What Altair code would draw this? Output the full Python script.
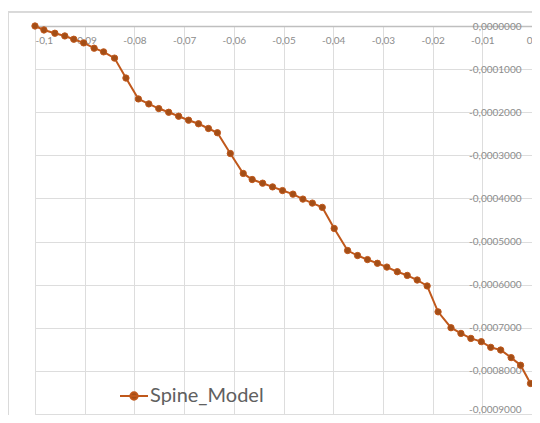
import altair as alt
import pandas as pd

x_vals = [-0.1, -0.0982, -0.096, -0.094, -0.0922, -0.0902, -0.0881, -0.0862, -0.084, -0.0817,
          -0.0792, -0.0771, -0.0751, -0.0731, -0.0711, -0.0691, -0.0671, -0.0651, -0.0633, -0.0607,
          -0.0581, -0.0563, -0.0542, -0.0522, -0.0502, -0.0481, -0.0461, -0.0442, -0.0422, -0.0398,
          -0.0371, -0.0351, -0.0331, -0.0311, -0.0292, -0.0271, -0.0251, -0.0231, -0.0211, -0.0189,
          -0.0163, -0.0143, -0.0123, -0.0102, -0.0083, -0.0063, -0.0042, -0.0023, -0.0003]
y_vals = [0.0, -0.0000092, -0.0000168, -0.0000231, -0.0000307, -0.0000392, -0.0000515, -0.0000600, -0.0000745, -0.0001207,
          -0.0001692, -0.0001807, -0.0001915, -0.0002001, -0.0002093, -0.0002185, -0.0002268, -0.0002377, -0.0002476, -0.0002958,
          -0.0003420, -0.0003561, -0.0003646, -0.0003732, -0.0003817, -0.0003900, -0.0004015, -0.0004108, -0.0004207, -0.0004696,
          -0.0005208, -0.0005324, -0.0005418, -0.0005504, -0.0005592, -0.0005700, -0.0005785, -0.0005892, -0.0006030, -0.0006630,
          -0.0006999, -0.0007131, -0.0007246, -0.0007322, -0.0007454, -0.0007516, -0.0007692, -0.0007869, -0.0008292]
series_name = "Spine_Model"
x_ticks = [-0.1, -0.09, -0.08, -0.07, -0.06, -0.05, -0.04, -0.03, -0.02, -0.01, 0.0]
y_ticks = [0.0, -0.0001, -0.0002, -0.0003, -0.0004, -0.0005, -0.0006, -0.0007, -0.0008, -0.0009]

df = pd.DataFrame({"x": x_vals, "y": y_vals, "series": series_name})

W, H = 497, 388
LINE = "#C0581B"
MARK = "#A34E17"
GRID = "#DDDDDD"
LABEL = "#8C8C8C"

x_enc = alt.X("x:Q", scale=alt.Scale(domain=[-0.1, 0.0], nice=False, zero=False),
              axis=alt.Axis(orient="bottom", offset=-H, values=x_ticks, title=None,
                            labelExpr="replace(replace(format(datum.value, '.2~f'), '.', ','), '\u2212', '-')",
                            ticks=False, labelPadding=9, grid=True, gridColor=GRID,
                            domainColor="#BFBFBF", domainWidth=1.5,
                            labelFont="Lato", labelFontSize=10, labelColor=LABEL))
y_enc = alt.Y("y:Q", scale=alt.Scale(domain=[-0.0009, 0.0], nice=False, zero=False),
              axis=alt.Axis(orient="left", offset=-W, values=y_ticks, title=None,
                            labelExpr="replace(replace(format(datum.value, '.7f'), '.', ','), '\u2212', '-')",
                            labelBaseline={"condition": {"test": "datum.value < -0.00085", "value": "bottom"},
                                           "value": "middle"},
                            ticks=False, labelPadding=11, grid=True, gridColor=GRID,
                            domainColor=GRID,
                            labelFont="Lato", labelFontSize=10, labelColor=LABEL))

border = alt.Chart(df).mark_rect(fill=None, stroke="#D9D9D9", strokeWidth=1).encode(
    x=alt.value(-27), x2=alt.value(W + 20), y=alt.value(-14), y2=alt.value(H + 20))

line = alt.Chart(df).mark_line(strokeWidth=2).encode(
    x=x_enc, y=y_enc,
    color=alt.Color("series:N", scale=alt.Scale(domain=[series_name], range=[LINE]),
                    legend=alt.Legend(orient="none", legendX=84, legendY=355, title=None,
                                      symbolType="M-1,0H1M-0.26,0A0.26,0.26,0,1,1,0.26,0A0.26,0.26,0,1,1,-0.26,0Z",
                                      symbolSize=784, symbolStrokeWidth=2,
                                      symbolFillColor=MARK, symbolStrokeColor=LINE,
                                      labelFont="Lato", labelFontSize=20, labelColor="#606060",
                                      labelOffset=1, padding=0)))

points = alt.Chart(df).mark_point(filled=True, size=40, fill=MARK, stroke=LINE, strokeWidth=1, opacity=1).encode(
    x="x:Q", y="y:Q")

chart = alt.layer(border, line, points).properties(
    width=W, height=H,
    autosize=alt.AutoSizeParams(type="none"),
    padding={"left": 27, "top": 18, "right": 0, "bottom": 1},
).configure_view(stroke=None).configure(background="white")

chart.save("out.html", embed_options={"renderer": "svg", "actions": False})
